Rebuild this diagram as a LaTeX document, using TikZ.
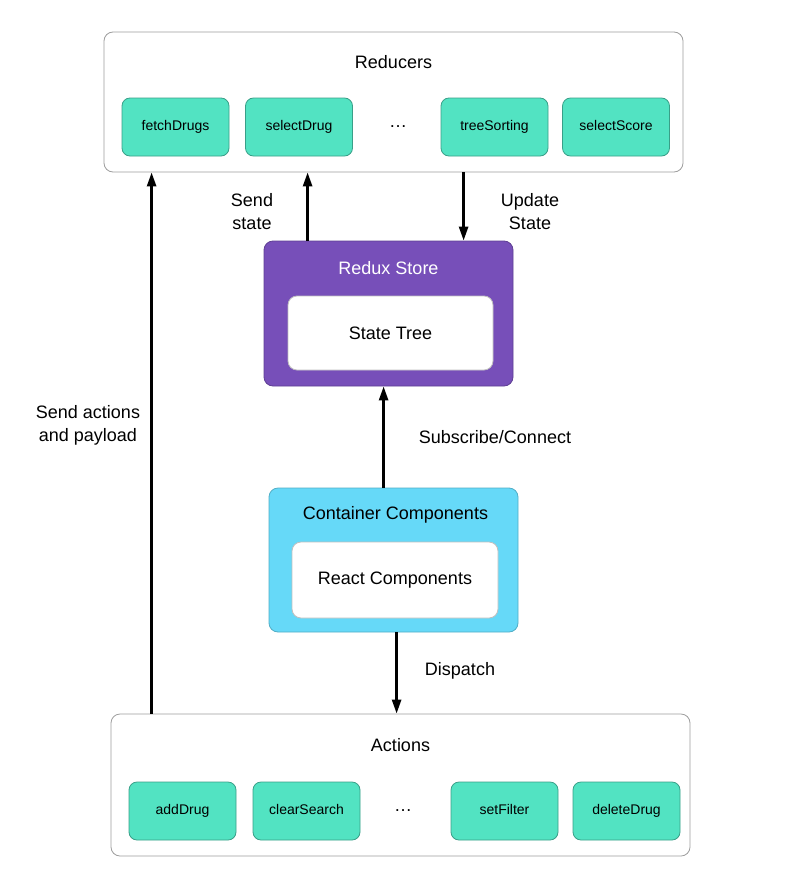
\documentclass[tikz,border=0pt]{standalone}
\usepackage{fontspec}
\setmainfont{Liberation Sans}
\usetikzlibrary{arrows.meta}
\definecolor{reduxteal}{HTML}{52E3C2}
\definecolor{reduxpurple}{HTML}{774FB9}
\definecolor{reduxblue}{HTML}{66D9F8}
\tikzset{
  outerbox/.style={draw=black!38, line width=0.8pt, rounded corners=9pt, fill=white},
  itembox/.style={draw=black!30!reduxteal, line width=0.8pt, fill=reduxteal, rounded corners=8pt,
    minimum width=107pt, minimum height=58pt, text height=10pt, text depth=3pt,
    font=\fontsize{14}{16}\selectfont},
  innerbox/.style={draw=black!25, line width=0.8pt, fill=white, rounded corners=9pt, font=\fontsize{18}{21}\selectfont},
  title/.style={font=\fontsize{18}{21}\selectfont},
  lbl/.style={font=\fontsize{18}{23}\selectfont, align=center},
  arr/.style={line width=2.6pt, -{Triangle[length=14pt,width=9pt]}}
}
\begin{document}
\begin{tikzpicture}[x=1pt,y=-1pt]
			%%%%% FRAME %%%%%
			\useasboundingbox[fill=white] (0,0) rectangle (796,891);
			
			%%%%% REDUCERS %%%%%
			\node[outerbox, minimum width=579pt, minimum height=140pt] (red) at (393.5,102) {};
			\node[title] (redt) at (393.5,62) {Reducers};
			\node[itembox] (fetch) at (175.5,127) {fetchDrugs};
			\node[itembox] (select) at (299,127) {selectDrug};
			\node[title] (reddots) at (398,127) {\dots};
			\node[itembox] (tree) at (494.5,127) {treeSorting};
			\node[itembox] (score) at (616,127) {selectScore};
			
			%%%%% STORE %%%%%
			\node[draw=reduxpurple!80!black, line width=0.8pt, fill=reduxpurple, rounded corners=9pt,
			  minimum width=249pt, minimum height=145pt] (store) at (388.5,313.5) {};
			\node[title, text=white] (storet) at (388.5,268) {Redux Store};
			\node[innerbox, minimum width=205pt, minimum height=74pt] (tree0) at (390.5,333) {State Tree};
			
			%%%%% CONTAINER %%%%%
			\node[draw=reduxblue!80!black, line width=0.8pt, fill=reduxblue, rounded corners=9pt,
			  minimum width=249pt, minimum height=144pt] (cont) at (393.5,560) {};
			\node[title] (contt) at (395.5,515) {Container Components};
			\node[innerbox, minimum width=206pt, minimum height=76pt] (react) at (395,580) {React Components};
			
			%%%%% ACTIONS %%%%%
			\node[outerbox, minimum width=579pt, minimum height=142pt] (act) at (400.5,785) {};
			\node[title] (actt) at (400.5,745) {Actions};
			\node[itembox] (add) at (182.5,811) {addDrug};
			\node[itembox] (clear) at (306.5,811) {clearSearch};
			\node[title] (actdots) at (403,811) {\dots};
			\node[itembox] (filter) at (504.5,811) {setFilter};
			\node[itembox] (delete) at (626.5,811) {deleteDrug};
			
			%%%%% ARROWS %%%%%
			\coordinate (upa) at ([xshift=41pt]act.north west);
			\draw[arr] (upa) -- (upa |- red.south);
			\coordinate (ups) at ([xshift=44pt]store.north west);
			\draw[arr] (ups) -- (ups |- red.south);
			\coordinate (dnu) at ([xshift=200pt]store.north west);
			\draw[arr] (dnu |- red.south) -- (dnu);
			\coordinate (upc) at ([xshift=115pt]cont.north west);
			\draw[arr] (upc) -- (upc |- store.south);
			\coordinate (dnd) at ([xshift=128pt]cont.south west);
			\draw[arr] (dnd) -- (dnd |- act.north);
			
			%%%%% LABELS %%%%%
			\node[lbl] (sendst) at (252,212) {Send\\state};
			\node[lbl] (updst) at (530,212) {Update\\State};
			\node[lbl] (subs) at (495,437) {Subscribe/Connect};
			\node[lbl] (disp) at (460,671) {Dispatch};
			\node[lbl] (sendact) at (88,425) {Send actions\\and payload};
			
			%%%%% END %%%%%
\end{tikzpicture}
\end{document}
